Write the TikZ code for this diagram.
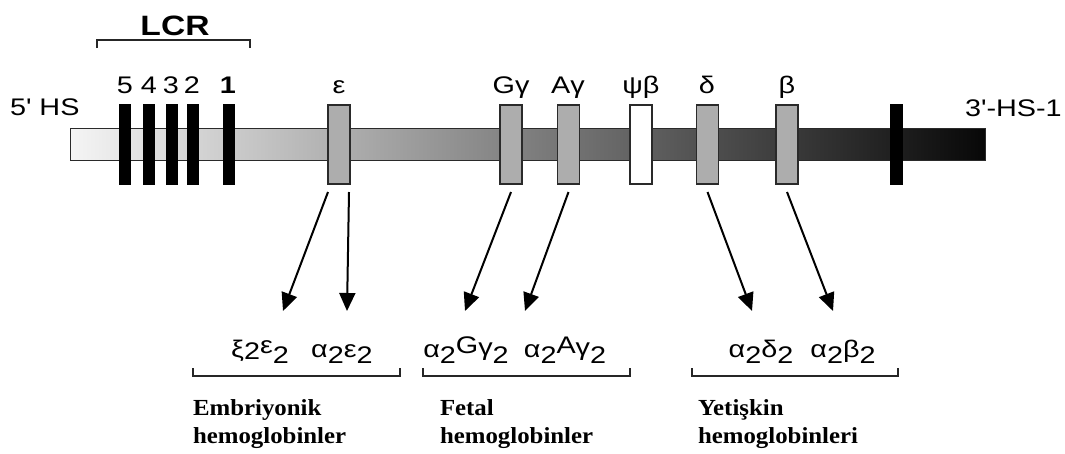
\documentclass[tikz,border=0pt]{standalone}
\usepackage{fontspec}
\setmainfont{Liberation Sans}
\newfontfamily\lsans[FakeStretch=1.2]{Liberation Sans}
\newfontfamily\lserif[FakeStretch=1.08]{Liberation Serif}
\usetikzlibrary{arrows.meta}
\definecolor{boxgray}{HTML}{ADADAD}
\definecolor{edge}{HTML}{2A2A2A}
\newcommand{\lo}[1]{\raisebox{-6pt}{#1}}
\newcommand{\hi}[2]{\raisebox{#1}{#2}}
\begin{document}
\begin{tikzpicture}[x=1pt,y=-1pt,
  every node/.style={inner sep=0pt, outer sep=0pt},
  gene/.style={draw=edge, line width=1.1pt, fill=boxgray, minimum width=22pt, minimum height=79pt},
  hsbar/.style={fill=black, minimum width=12pt, minimum height=81pt},
  lab/.style={font=\lsans\fontsize{24}{28}\selectfont, anchor=base},
  form/.style={font=\lsans\fontsize{24}{28}\selectfont, anchor=base},
  captxt/.style={font=\lserif\bfseries\fontsize{23}{28}\selectfont, anchor=base west, align=left},
  arr/.style={line width=2pt, -{Triangle[length=18pt,width=16pt]}},
  brk/.style={line width=1.8pt, draw=black!85}
]
\useasboundingbox (0,0) rectangle (1065,453);

% main bar
\node[draw=edge, line width=1pt, minimum width=915pt, minimum height=32pt,
      left color=white!96!black, right color=black!97] (bar) at (527.5,144) {};

% LCR hypersensitive sites
\node[hsbar] (hs5) at (125,144.5) {};
\node[hsbar] (hs4) at (149,144.5) {};
\node[hsbar] (hs3) at (172,144.5) {};
\node[hsbar] (hs2) at (193,144.5) {};
\node[hsbar] (hs1) at (229,144.5) {};
\node[hsbar, minimum width=13pt] (hs3p) at (896.5,144) {};

% genes
\node[gene] (eps) at (339,144.5) {};
\node[gene] (gg)  at (511,144.5) {};
\node[gene] (ag)  at (568.5,144.5) {};
\node[gene, fill=white] (psib) at (641,144.5) {};
\node[gene] (del) at (707.5,144.5) {};
\node[gene] (bet) at (787,144.5) {};

% top labels
\node[lab, font=\lsans\bfseries\fontsize{28}{32}\selectfont] (lcr) at (175,35) {LCR};
\draw[brk] (97,48) -- (97,40) -- (250,40) -- (250,48);
\node[lab, anchor=base west] (hs5p) at (10,115) {5' HS};
\node[lab, anchor=base west] (hs3pl) at (965,116) {3'-HS-1};
\node[lab] (n5) at (125,93) {5};
\node[lab] (n4) at (149,93) {4};
\node[lab] (n3) at (171,93) {3};
\node[lab] (n2) at (192,93) {2};
\node[lab, font=\lsans\bfseries\fontsize{24}{28}\selectfont] (n1) at (228,93) {1};
\node[lab] (leps) at (339,93) {ε};
\node[lab] (lgg) at (511,93) {Gγ};
\node[lab] (lag) at (568,93) {Aγ};
\node[lab] (lpsib) at (641,93) {ψβ};
\node[lab] (ldel) at (707,93) {δ};
\node[lab] (lbet) at (787,93) {β};

% bottom formulas
\node[form] (f1) at (260,357) {ξ\hi{-2pt}{2}\hi{4pt}{ε}\lo{2}};
\node[form] (f2) at (342,357) {α\lo{2}ε\lo{2}};
\node[form] (f3) at (466,357) {α\lo{2}\hi{4pt}{G}\hi{2pt}{γ}\lo{2}};
\node[form] (f4) at (565,357) {α\lo{2}\hi{4pt}{A}\hi{2pt}{γ}\lo{2}};
\node[form] (f5) at (761,357) {α\lo{2}δ\lo{2}};
\node[form] (f6) at (843,357) {α\lo{2}β\lo{2}};

% arrow end points
\coordinate (e1) at (283,311);
\coordinate (e2) at (347,311);
\coordinate (e3) at (465,311);
\coordinate (e4) at (525,311);
\coordinate (e5) at (752,311);
\coordinate (e6) at (833,311);

\draw[arr] ([yshift=-8pt]eps.south west) -- (e1);
\draw[arr] ([yshift=-8pt,xshift=-1pt]eps.south east) -- (e2);
\draw[arr] ([yshift=-8pt]gg.south) -- (e3);
\draw[arr] ([yshift=-8pt]ag.south) -- (e4);
\draw[arr] ([yshift=-8pt]del.south) -- (e5);
\draw[arr] ([yshift=-8pt]bet.south) -- (e6);

% bottom brackets
\draw[brk] (193,368) -- (193,376) -- (400,376) -- (400,368);
\draw[brk] (423,368) -- (423,376) -- (630,376) -- (630,368);
\draw[brk] (692,368) -- (692,376) -- (898,376) -- (898,368);

% captions (base anchor = baseline of the last line)
\node[captxt] (c1) at (193,443) {Embriyonik\\hemoglobinler};
\node[captxt] (c2) at (440,443) {Fetal\\hemoglobinler};
\node[captxt] (c3) at (698,443) {Yetişkin\\hemoglobinleri};
\end{tikzpicture}
\end{document}
